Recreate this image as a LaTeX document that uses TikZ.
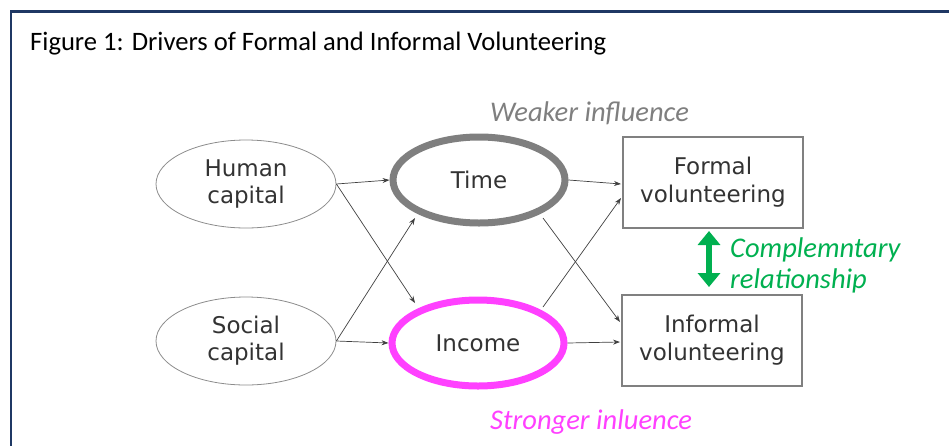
\documentclass[tikz,border=0pt]{standalone}
\usepackage{fontspec}
\setmainfont{Carlito}
\newfontfamily\vfont{DejaVu Sans}
\usetikzlibrary{shapes.geometric,arrows.meta}
\definecolor{navy}{HTML}{1F3864}
\definecolor{txtgray}{HTML}{333333}
\definecolor{ringgray}{HTML}{7F7F7F}
\definecolor{pinkring}{HTML}{FF40FF}
\definecolor{grn}{HTML}{00B050}
\begin{document}
\begin{tikzpicture}[x=1pt,y=-1pt,
  oval/.style={ellipse,draw=black!45,line width=0.8pt,minimum width=180pt,minimum height=88pt,
     font=\vfont\fontsize{23}{27}\selectfont,text=txtgray,align=center,inner sep=0pt},
  ring/.style={ellipse,line width=7pt,minimum width=172pt,minimum height=86pt,
     font=\vfont\fontsize{23}{27}\selectfont,text=txtgray,align=center,inner sep=0pt},
  vbox/.style={rectangle,draw=black!50,line width=1.2pt,minimum width=180pt,minimum height=91pt,
     font=\vfont\fontsize{23}{28}\selectfont,text=txtgray,align=center,inner sep=0pt},
  link/.style={draw=black!75,line width=0.7pt,-{Stealth[length=7pt,width=5pt]}},
  lbl/.style={font=\itshape\fontsize{28.5}{32}\selectfont,anchor=base west,inner sep=0pt}
]
\useasboundingbox (0,0) rectangle (949,445);
\draw[navy,line width=2.5pt] (11,460) -- (11,11.5) -- (960,11.5);
\node[anchor=base west,inner sep=0pt,font=\fontsize{26.6}{30}\selectfont] (title) at (30,50)
  {Figure 1: Drivers of Formal and Informal Volunteering};

\node[oval] (human) at (246,184) {Human\\capital};
\node[oval] (social) at (246,341) {Social\\capital};
\node[ring,draw=ringgray] (time) at (479,180) {Time};
\node[ring,draw=pinkring] (income) at (478,343) {Income};
\node[vbox] (formal) at (713,182.5) {Formal\\volunteering};
\node[vbox] (informal) at (712,340.5) {Informal\\volunteering};

\coordinate (fA) at (621,184);
\coordinate (fB) at (621,198);
\coordinate (iA) at (620,322);
\coordinate (iB) at (620,342);

\draw[link] (human.east) -- (time.west);
\draw[link] (human.east) -- (415,303);
\draw[link] (social.east) -- (415,218);
\draw[link] (social.east) -- (income.west);
\draw[link] (time.east) -- (fA);
\draw[link] (543,218) -- (iA);
\draw[link] (543,307) -- (fB);
\draw[link] (income.east) -- (iB);

\coordinate (gtop) at (709,231);
\coordinate (gbot) at (709,287);
\draw[grn,line width=6pt,{Triangle[length=14pt,width=22pt]}-{Triangle[length=14pt,width=22pt]}] (gtop) -- (gbot);

\node[lbl,text=grn] (comp) at (730,257) {Complemntary};
\node[lbl,text=grn] (rel) at (730,288) {relationship};
\node[lbl,text=ringgray] (weak) at (490,121) {Weaker influence};
\node[lbl,text=pinkring] (strong) at (490,429) {Stronger inluence};
\end{tikzpicture}
\end{document}
